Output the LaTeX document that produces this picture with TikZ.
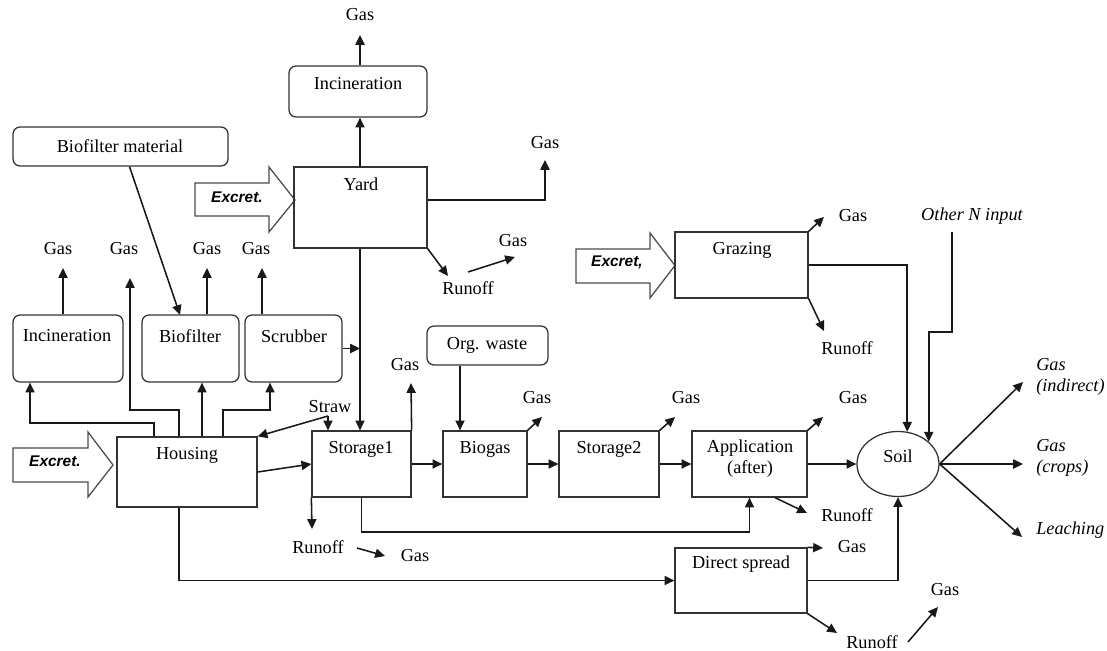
\documentclass[tikz,border=0pt]{standalone}
\usepackage{fontspec}
\setmainfont{Liberation Serif}
\newfontfamily\arialf{Liberation Sans}
\usetikzlibrary{arrows.meta,fit,shapes.geometric}
\begin{document}
\begin{tikzpicture}[x=0.025cm,y=-0.025cm,
  font=\fontsize{13}{15}\selectfont,
  arr/.style={draw=black!90, line width=1.1pt, -{Triangle[length=7pt,width=6.5pt]}},
  boxn/.style={draw=black!80, line width=0.9pt, inner sep=0pt},
  rbox/.style={boxn, rounded corners=5pt},
  txt/.style={inner sep=0pt},
  itx/.style={inner sep=0pt, font=\fontsize{13}{15}\selectfont\itshape},
  exc/.style={inner sep=0pt, font=\fontsize{11}{13}\selectfont\arialf\bfseries\itshape},
  blk/.style={draw=black!70, line width=0.9pt, fill=white}
]
\useasboundingbox (0,0) rectangle (1107,651);

% ---------- block arrows (excretion inputs)
\draw[blk] (195,183) -- (269,183) -- (269,167) -- (295,200) -- (269,232) -- (269,216) -- (195,216) -- cycle;
\node[exc] (exY) at (237,197) {Excret.};
\draw[blk] (13,448) -- (88,448) -- (88,432) -- (113,465) -- (88,497) -- (88,482) -- (13,482) -- cycle;
\node[exc] (exH) at (55,461) {Excret.};
\draw[blk] (576,249) -- (650,249) -- (650,233) -- (675,265.5) -- (650,298) -- (650,283) -- (576,283) -- cycle;
\node[exc] (exG) at (617,262) {Excret,};

% ---------- boxes
\node[rbox, fit={(289,66) (427,117)}] (incT) {};
\node[txt] (incT-t) at (358,84) {Incineration};
\node[boxn, fit={(294,167) (427,248)}] (yard) {};
\node[txt] (yard-t) at (361,184) {Yard};
\node[rbox, fit={(13,127) (228,166)}] (bfm) {};
\node[txt] (bfm-t) at (120,146) {Biofilter material};
\node[rbox, fit={(13,315) (123,382)}] (incL) {};
\node[txt] (incL-t) at (67,336) {Incineration};
\node[rbox, fit={(142,315) (239,382)}] (biof) {};
\node[txt] (biof-t) at (190,336) {Biofilter};
\node[rbox, fit={(245,315) (342,382)}] (scrub) {};
\node[txt] (scrub-t) at (294,336) {Scrubber};
\node[boxn, fit={(117,437) (257,507)}] (housing) {};
\node[txt] (housing-t) at (187,455) {Housing};
\node[boxn, fit={(312,431) (411,497)}] (st1) {};
\node[txt] (st1-t) at (361,449) {Storage1};
\node[rbox, fit={(427,326) (548,365)}] (orgw) {};
\node[txt] (orgw-t) at (487,345) {Org. waste};
\node[boxn, fit={(443,431) (527,497)}] (biogas) {};
\node[txt] (biogas-t) at (485,449) {Biogas};
\node[boxn, fit={(559,431) (659,497)}] (st2) {};
\node[txt] (st2-t) at (609,449) {Storage2};
\node[boxn, fit={(692,431) (807,497)}] (app) {};
\node[txt, align=center] (app-t) at (750,459) {Application\\(after)};
\node[boxn, fit={(675,548) (807,613)}] (ds) {};
\node[txt] (ds-t) at (741,564) {Direct spread};
\node[boxn, fit={(675,232) (808,298)}] (graz) {};
\node[txt] (graz-t) at (742,250) {Grazing};
\node[draw=black!80, line width=0.9pt, ellipse, inner sep=0pt,
      minimum width=2.05cm, minimum height=1.625cm] (soil) at (898,464) {};
\node[txt] (soil-t) at (898,456) {Soil};

% ---------- free text labels
\node[txt] (gasT) at (360,15) {Gas};
\node[txt] (gasY) at (545,143) {Gas};
\node[txt] (runY) at (468,288) {Runoff};
\node[txt] (gasRY) at (513,241) {Gas};
\node[txt] (g1) at (58,249) {Gas};
\node[txt] (g2) at (124,249) {Gas};
\node[txt] (g3) at (207,249) {Gas};
\node[txt] (g4) at (256,249) {Gas};
\node[txt] (straw) at (330,407) {Straw};
\node[txt] (gasS1) at (405,365) {Gas};
\node[txt] (runS1) at (318,547) {Runoff};
\node[txt] (gasRS1) at (415,556) {Gas};
\node[txt] (gasB) at (537,398) {Gas};
\node[txt] (gasS2) at (686,398) {Gas};
\node[txt] (gasA) at (853,398) {Gas};
\node[txt] (runA) at (847,515) {Runoff};
\node[txt] (gasD) at (852,547) {Gas};
\node[txt] (runD) at (872,642) {Runoff};
\node[txt] (gasRD) at (945,590) {Gas};
\node[txt] (gasG) at (853,216) {Gas};
\node[txt] (runG) at (847,348) {Runoff};
\node[itx] (otherN) at (972,216) {Other N input};
\node[itx, anchor=west, align=left] (gasInd) at (1036,377) {Gas\\(indirect)};
\node[itx, anchor=west, align=left] (gasCrop) at (1036,458) {Gas\\(crops)};
\node[itx, anchor=west] (leach) at (1036,530) {Leaching};

% ---------- yard cluster
\draw[arr] (gasT |- incT.north) -- (gasT |- 0,35);
\draw[arr] (yard.north -| gasT) -- (incT.south -| gasT);
\draw[arr] (yard.east |- 0,200) -| (gasY |- 0,160);
\draw[arr] (yard.south east) -- (448,276);
\draw[arr] (468,272) -- (515,257);
\draw[arr] (yard.south -| gasT) -- (st1.north -| gasT);
\draw[arr] (scrub.east) -- (scrub.east -| gasT);

% ---------- housing cluster
\draw[arr] ([xshift=6.4pt]bfm.south) -- (180,315);
\draw[arr] (incL.north -| 63,0) -- (63,268);
\draw[arr] (biof.north -| 207,0) -- (207,268);
\draw[arr] (scrub.north -| 262,0) -- (262,268);
\draw[arr] (housing.north -| 154,0) -- (154,423) -| (incL.south -| 30,0);
\draw[arr] (housing.north -| 179,0) -- (179,410) -| (130,278);
\draw[arr] (housing.north -| 202,0) -- (biof.south -| 202,0);
\draw[arr] (housing.north -| 223,0) -- (223,410) -| (scrub.south -| 270,0);
\coordinate (strawv) at (328,416);
\draw[arr] (strawv) -- (housing.north east);
\draw[arr] (strawv) -- (st1.north -| strawv);
\draw[arr] (housing.east) -- (st1.west);

% ---------- main chain
\draw[arr] (st1.north east) -- (411,383);
\draw[arr] (st1.south west) -- (312,529);
\draw[arr] (357,548) -- (385,556);
\draw[arr] (st1.south) -- (st1.south |- 0,532) -| (app.south);
\draw[arr] (housing.south -| 179,0) |- (ds.west);
\draw[arr] (st1.east) -- (biogas.west);
\draw[arr] (orgw.south -| 460,0) -- (biogas.north -| 460,0);
\draw[arr] (biogas.north east) -- (542,417);
\draw[arr] (biogas.east) -- (st2.west);
\draw[arr] (st2.north east) -- (675,417);
\draw[arr] (st2.east) -- (app.west);
\draw[arr] (app.north east) -- (823,417);
\draw[arr] (app.south -| 775,0) -- (807,513);
\draw[arr] (app.east) -- (soil.west);

% ---------- direct spread
\draw[arr] (ds.north east) -- (823,548);
\draw[arr] (ds.east) -| (soil.south);
\draw[arr] (ds.south east) -- (837,633);
\draw[arr] (908,642) -- (938,607);

% ---------- grazing and soil
\draw[arr] (graz.north east) -- (824,217);
\draw[arr] (graz.south east) -- (824,331);
\draw[arr] (graz.east) -| (soil.74);
\draw[arr] (952,232) -- (952,332) -| (soil.36);
\draw[arr] (soil.east) -- (1023,382);
\draw[arr] (soil.east) -- (1023,464);
\draw[arr] (soil.east) -- (1022,537);
\end{tikzpicture}
\end{document}
